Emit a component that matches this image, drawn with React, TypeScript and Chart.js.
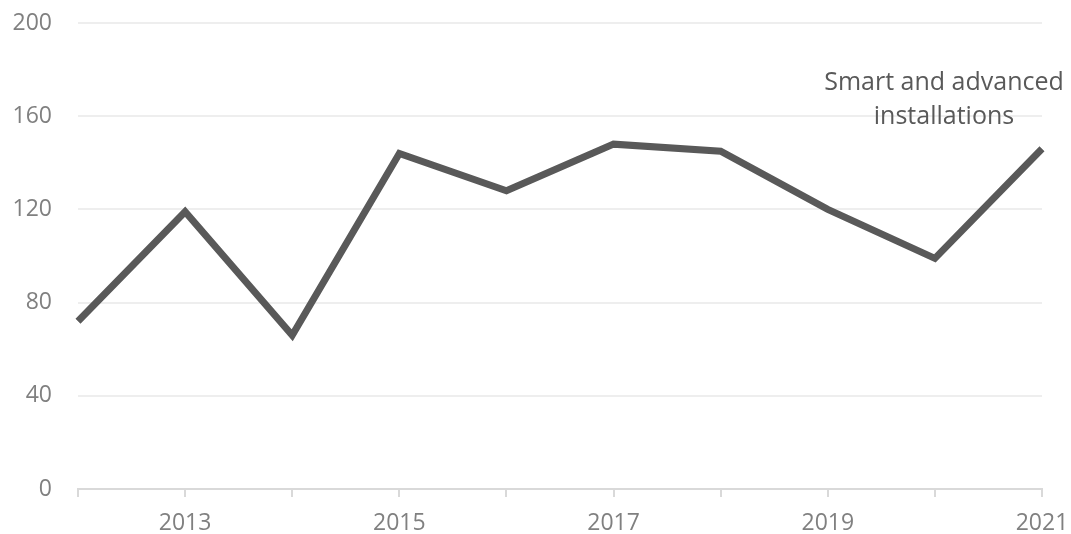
import React, { useEffect, useRef } from "react";
import { Chart, registerables } from "chart.js";

Chart.register(...registerables);

const years = ["2012", "2013", "2014", "2015", "2016", "2017", "2018", "2019", "2020", "2021"];
const installations = [72, 119, 66, 144, 128, 148, 145, 120, 99, 146];
const seriesLabel = ["Smart and advanced", "installations"];
const yTicks = [0, 40, 80, 120, 160, 200];

const FONT = "'Open Sans', 'Noto Sans', sans-serif";

const annotationPlugin = {
  id: "seriesLabel",
  afterDraw(chart: any) {
    const ctx = chart.ctx;
    const xScale = chart.scales.x;
    const yScale = chart.scales.y;
    const cx = xScale.getPixelForValue(years.length - 1) - 98;
    const y0 = yScale.getPixelForValue(174.5);
    ctx.save();
    ctx.font = `25px ${FONT}`;
    ctx.fillStyle = "#595959";
    ctx.textAlign = "center";
    ctx.textBaseline = "middle";
    seriesLabel.forEach((line, i) => ctx.fillText(line, cx, y0 + i * 34));
    ctx.restore();
  },
};

export default function App() {
  const ref = useRef<HTMLCanvasElement>(null);
  useEffect(() => {
    if (!ref.current) return;
    const chart = new Chart(ref.current, {
      type: "line",
      data: {
        labels: years,
        datasets: [
          {
            data: installations,
            borderColor: "#595959",
            borderWidth: 7,
            pointRadius: 0,
            tension: 0,
            fill: false,
          },
        ],
      },
      options: {
        animation: false,
        responsive: false,
        maintainAspectRatio: false,
        layout: { padding: { top: 23, right: 29, left: 0, bottom: 0 } },
        plugins: { legend: { display: false }, tooltip: { enabled: false } },
        scales: {
          x: {
            offset: false,
            grid: {
              display: true,
              drawOnChartArea: false,
              drawTicks: true,
              tickLength: 8,
              color: "#d9d9d9",
              lineWidth: 2,
            },
            border: { display: true, color: "#d9d9d9", width: 2 },
            ticks: {
              autoSkip: false,
              maxRotation: 0,
              padding: 13,
              color: "#808080",
              font: { family: FONT, size: 23 },
              callback: (_v: any, i: number) => (i % 2 === 1 ? years[i] : ""),
            },
            afterFit: (s: any) => {
              s.height = 45;
              s.paddingLeft = 0;
              s.paddingRight = 0;
            },
          },
          y: {
            min: 0,
            max: 200,
            afterBuildTicks: (s: any) => {
              s.ticks = yTicks.map((v) => ({ value: v }));
            },
            grid: { color: "#eeeeee", lineWidth: 2, drawTicks: false },
            border: { display: false },
            ticks: {
              padding: 26,
              color: "#808080",
              font: { family: FONT, size: 23 },
            },
            afterFit: (s: any) => {
              s.width = 78;
              s.paddingTop = 0;
              s.paddingBottom = 0;
            },
          },
        },
      },
      plugins: [annotationPlugin],
    });
    return () => chart.destroy();
  }, []);
  return (
    <div style={{ position: "fixed", left: 0, top: 0, width: 1071, height: 534, background: "#fff" }}>
      <canvas ref={ref} width={1071} height={534} style={{ width: 1071, height: 534 }} />
    </div>
  );
}
